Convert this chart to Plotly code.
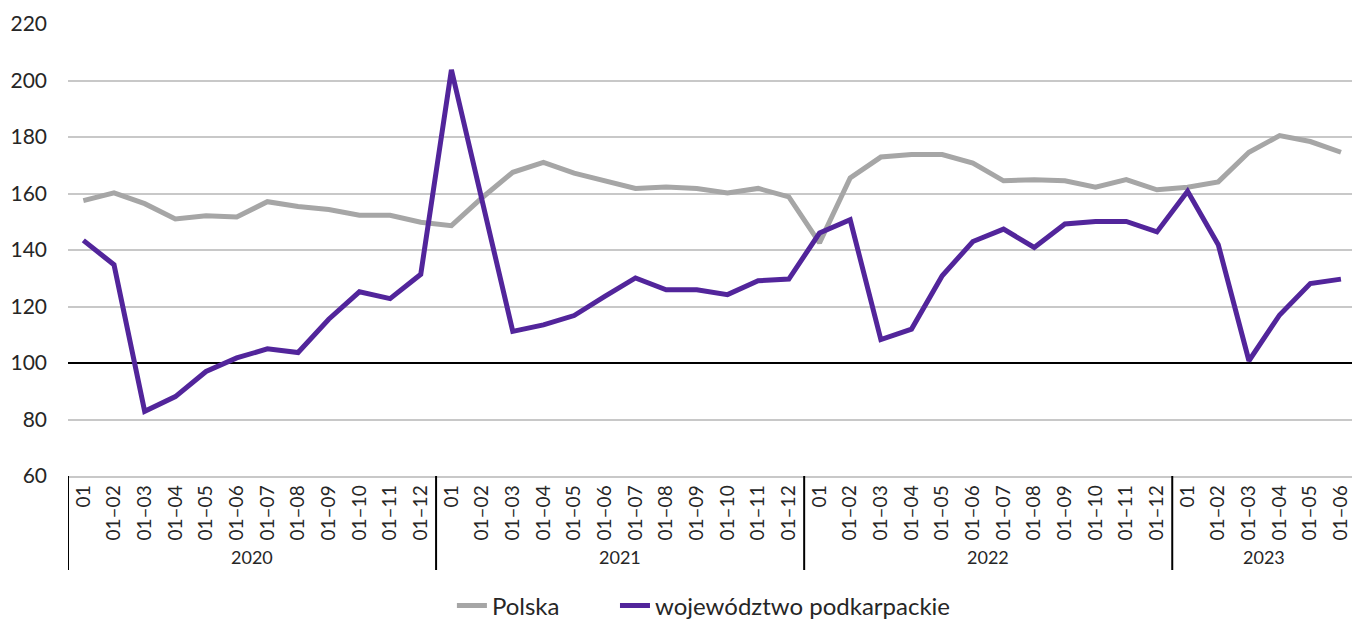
import plotly.graph_objects as go

years = ["2020", "2021", "2022", "2023"]
months_per_year = [12, 12, 12, 6]
month_labels_full = ["01", "01–02", "01–03", "01–04", "01–05", "01–06",
                     "01–07", "01–08", "01–09", "01–10", "01–11", "01–12"]

polska = [157.5, 160.2, 156.4, 151.0, 152.1, 151.7, 157.1, 155.4, 154.3, 152.3, 152.3, 149.8,
          148.6, 158.5, 167.5, 171.0, 167.2, 164.6, 161.8, 162.3, 161.8, 160.2, 161.8, 158.8,
          142.5, 165.5, 172.9, 173.8, 173.8, 170.8, 164.5, 164.9, 164.5, 162.2, 164.9, 161.3,
          162.2, 164.1, 174.6, 180.5, 178.4, 174.6]
podkarpackie = [143.4, 134.8, 82.9, 88.1, 97.0, 101.8, 105.0, 103.7, 115.5, 125.2, 122.8, 131.4,
                203.8, 158.0, 111.2, 113.5, 116.8, 123.6, 130.1, 125.9, 125.9, 124.2, 129.1, 129.7,
                146.0, 150.7, 108.3, 112.0, 130.9, 143.0, 147.4, 140.9, 149.2, 150.1, 150.1, 146.4,
                160.8, 141.9, 100.8, 117.0, 128.1, 129.7]
baseline_value = 100

tick_text = []
for n in months_per_year:
    tick_text += month_labels_full[:n]
x_idx = list(range(len(tick_text)))
x_range = [-0.5, 41.36]

FONT = "Lato"
TXT = "#262626"

fig = go.Figure()
# reference line at 100 (drawn first so it sits under the series, above the grid)
fig.add_trace(go.Scatter(x=x_range, y=[baseline_value] * 2, mode="lines", showlegend=False,
                         hoverinfo="skip", line=dict(color="black", width=2)))
fig.add_trace(go.Scatter(x=x_idx, y=polska, mode="lines", name="Polska", legend="legend",
                         line=dict(color="#A6A6A6", width=5)))
fig.add_trace(go.Scatter(x=x_idx, y=podkarpackie, mode="lines", name="województwo podkarpackie",
                         legend="legend2", line=dict(color="#52259B", width=5)))

# year group dividers and labels
start = 0
for yr, n in zip(years, months_per_year):
    fig.add_shape(type="line", xref="x", x0=start - 0.5, x1=start - 0.5,
                  yref="paper", y0=0, y1=-0.208, line=dict(color="black", width=2))
    fig.add_annotation(text=yr, xref="x", x=start + (n - 1) / 2, yref="paper", y=-0.179,
                       showarrow=False, yanchor="middle",
                       font=dict(family=FONT, size=18, color=TXT))
    start += n

legend_style = dict(orientation="h", xanchor="left", y=-0.2876, yanchor="middle",
                    font=dict(family=FONT, size=24, color=TXT), bgcolor="rgba(0,0,0,0)")

fig.update_layout(
    width=1352, height=621,
    margin=dict(l=68, r=0, t=24, b=145, autoexpand=False),
    plot_bgcolor="white", paper_bgcolor="white",
    showlegend=True,
    legend=dict(x=0.299, **legend_style),
    legend2=dict(x=0.426, **legend_style),
    xaxis=dict(range=x_range, tickvals=x_idx, ticktext=tick_text, tickangle=-90,
               showgrid=False, zeroline=False, showline=True, linecolor="#C8C8C8", linewidth=1.5,
               ticks="", automargin=False, tickfont=dict(family=FONT, size=19, color=TXT)),
    yaxis=dict(range=[60, 220], dtick=20, showgrid=True, gridcolor="#C8C8C8", gridwidth=1.5,
               zeroline=False, showline=False, ticks="", ticklabelstandoff=20, automargin=False,
               tickfont=dict(family=FONT, size=21, color=TXT)),
)

fig.write_html("out.html", config={"displayModeBar": False},
               post_script="document.body.style.margin='0';document.body.style.overflow='hidden';")
